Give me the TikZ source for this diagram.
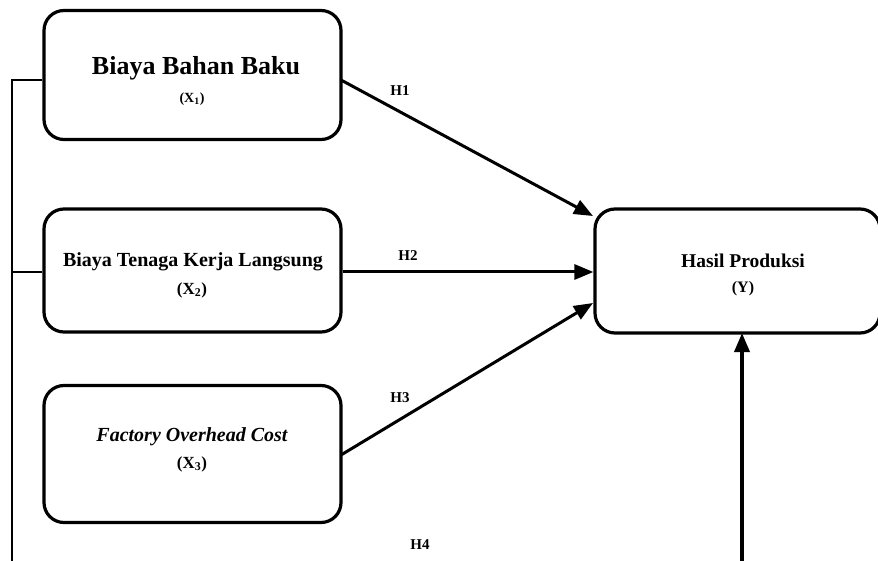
\documentclass[tikz,border=0pt]{standalone}
\usepackage{fontspec}
\setmainfont{Liberation Serif}
\usetikzlibrary{arrows.meta}
\begin{document}
\begin{tikzpicture}[x=1pt,y=-1pt,
  box/.style={draw, line width=3.2pt, rounded corners=20pt, minimum width=297pt, inner sep=0pt},
  conn/.style={line width=3pt},
  bus/.style={line width=2.4pt},
  arr/.style={conn, -{Triangle[length=19pt,width=15pt]}},
  lbl/.style={font=\fontsize{15}{15}\selectfont\bfseries, inner sep=0pt},
  txt/.style={inner sep=0pt, font=\bfseries}]
\useasboundingbox (0,0) rectangle (878,561);
\clip (0,0) rectangle (878,561);
% boxes
\node[box, minimum height=129pt] (b1) at (192.5,75) {};
\node[box, minimum height=123pt] (b2) at (192.5,270.5) {};
\node[box, minimum height=137pt] (b3) at (192.5,454) {};
\node[box, minimum width=285pt, minimum height=124pt] (by) at (737.5,271) {};
% texts
\node[txt, font=\fontsize{26}{26}\selectfont\bfseries] (t1a) at (196,68) {Biaya Bahan Baku};
\node[txt, font=\fontsize{14}{14}\selectfont\bfseries] (t1b) at (192,99) {(X\textsubscript{1})};
\node[txt, font=\fontsize{20}{20}\selectfont\bfseries] (t2a) at (193,262) {Biaya Tenaga Kerja Langsung};
\node[txt, font=\fontsize{17}{17}\selectfont\bfseries] (t2b) at (192,290) {(X\textsubscript{2})};
\node[txt, font=\fontsize{20}{20}\selectfont\bfseries\itshape] (t3a) at (192,437) {Factory Overhead Cost};
\node[txt, font=\fontsize{17}{17}\selectfont\bfseries] (t3b) at (192,464) {(X\textsubscript{3})};
\node[txt, font=\fontsize{19.5}{20}\selectfont\bfseries] (tya) at (743,261) {Hasil Produksi};
\node[txt, font=\fontsize{16}{16}\selectfont\bfseries] (tyb) at (743,289) {(Y)};
% hypothesis labels
\node[lbl] (h1) at (400,91) {H1};
\node[lbl] (h2) at (408,256) {H2};
\node[lbl] (h3) at (400,398) {H3};
\node[lbl] (h4) at (420,545) {H4};
% coordinates
\coordinate (b1e) at (341,80);
\coordinate (b3e) at (341,455);
\coordinate (y1) at (593,216);
\coordinate (y3) at (593,303);
\coordinate (ybot) at (742,333);
\coordinate (bus1) at (12,80);
\coordinate (bus2) at (12,272);
\coordinate (busb) at (12,570);
\coordinate (yin) at (742,570);
% connectors
\draw[bus] (b1.west |- bus1) -- (bus1) -- (busb);
\draw[bus] (b2.west |- bus2) -- (bus2);
\draw[arr] (b1e) -- (y1);
\draw[arr] (b2.east |- bus2) -- (by.west |- bus2);
\draw[arr] (b3e) -- (y3);
\draw[arr, line width=3.6pt] (yin) -- (ybot);
\end{tikzpicture}
\end{document}
